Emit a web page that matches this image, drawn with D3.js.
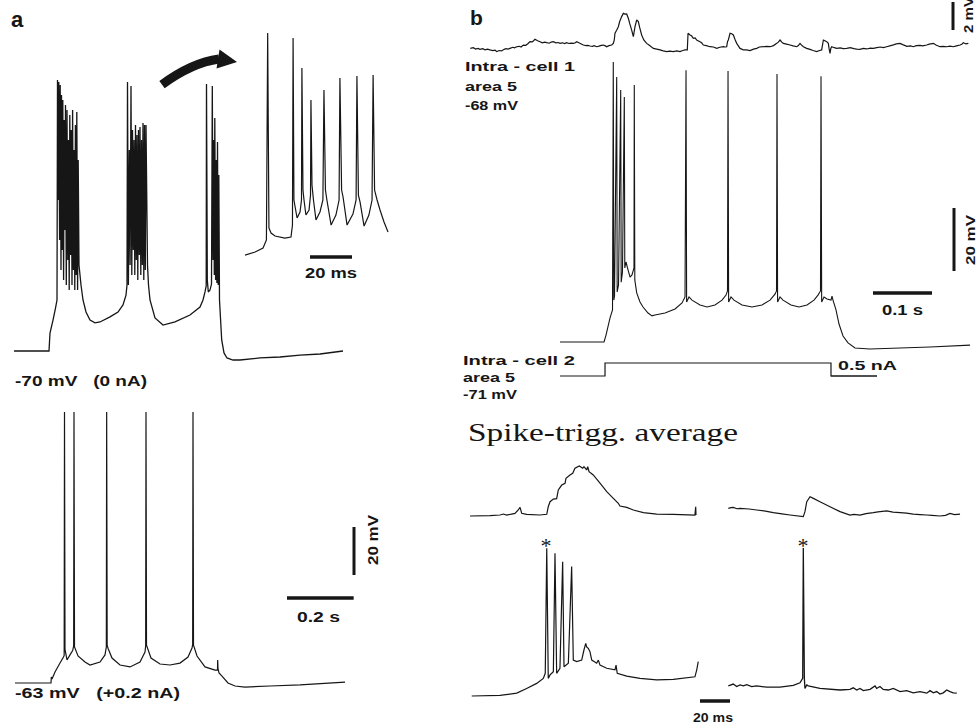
<!DOCTYPE html>
<html><head><meta charset="utf-8">
<script src="https://cdn.jsdelivr.net/npm/d3@7"></script>
<style>html,body{margin:0;padding:0;background:#fff}svg{display:block}text{white-space:pre}</style>
</head><body>
<svg id="fig" width="978" height="724"></svg>
<script>
// ---------- DATA (time in ms, membrane potential in mV, current in nA) ----------
// Panel a, top: spontaneous bursting at -70 mV (0 nA)
const A_TOP = [[0,-70],[105,-70],[108,-62.5],[117,-57.1],[124.5,-52.1],[129,-48.75],
 [130.5,42.9],[132.9,-7.1],[134.4,42.1],[136.8,-23.75],[138.6,40.8],[141,-36.25],[142.5,36.7],[144.9,-27.9],
 [146.4,34.6],[148.8,-40.4],[150.6,26.25],[153,-19.6],[154.5,32.5],[156.9,-42.5],[159,30.4],[161.4,-32.1],
 [163.2,17.9],[165.6,-44.6],[167.4,28.3],[169.8,-30],[171.6,22.1],[174,-42.5],[175.8,30.4],[178.2,-36.25],
 [180,13.75],[182.4,-44.6],[184.2,24.2],[186.6,-38.3],[188.4,29.6],[190.8,-44.6],[192.6,9.6],
 [195,-34.2],[201,-42.5],[207,-48.75],[216,-53.75],[228,-57.1],[243,-58.3],[258,-57.9],[288,-55.8],[312,-53.75],
 [327,-50.8],[336,-46.7],[339,-42.5],
 [340.5,42.1],[343.2,-42.5],[345.9,13.75],[348.3,-34.2],[351,40.4],[353.4,-38.3],[355.5,22.1],[357.9,-27.9],
 [360,17.9],[362.4,-38.3],[364.5,24.2],[366.9,-32.1],[369,20],[371.4,-40.4],[373.5,22.1],[375.9,-30],
 [378,23.3],[380.4,-38.3],[382.5,17.9],[384.9,-34.2],[387,25],[389.4,-40.4],[391.5,24.2],[393.9,-36.25],[396,24.2],
 [400.5,-34.2],[403.5,-42.5],[408,-48.75],[423,-56.25],[447,-59.2],[483,-57.9],[528,-55],[558,-51.7],[567,-48.75],[573,-45.4],
 [576.6,-42.9],[577.5,41.25],[579.9,-40.4],[582.9,-45.4],[588,-44.6],[592.5,-42.1],[594.9,40.4],[597,-32.1],
 [598.8,17.9],[600.9,-38.3],[602.4,27.1],[604.8,-40.4],[606.6,9.6],[608.7,-41.7],[610.5,17.1],[612.6,-42.5],
 [614.4,3.3],[616.5,-48.75],[623.1,-65.4],[630,-70.8],[639,-72.9],[657,-73.75],[678,-73.75],[738,-72.9],
 [798,-72.5],[858,-71.7],[918,-71.25],[987,-70]];

// Panel a, inset: third burst on expanded time base
const A_INSET = [[0,-51.7],[4.8,-50.4],[8.6,-48.75],[10.2,-45.4],[10.8,40.8],[11.4,-40.4],[12.4,-42.5],[14.3,-43.75],
 [19,-44.6],[21.9,-44.2],[22.6,-39.2],[22.9,38.75],[23.3,-28.75],[24.8,-36.25],[26.2,-33.75],[26.9,-28.75],
 [27.1,26.25],[27.6,-24.6],[28.1,-28.75],[29,-35],[30.5,-32.9],[31.2,-26.7],[31.4,12.9],[31.9,-22.5],[32.6,-28.75],
 [33.8,-37.1],[35.7,-33.75],[37.1,-28.75],[37.6,17.1],[38.3,-24.6],[39,-28.75],[41,-39.2],[43.3,-35],[44.8,-28.75],
 [45.2,22.1],[46,-24.6],[46.7,-27.5],[48.6,-39.2],[51.4,-34.6],[52.9,-28.75],[53.3,22.9],[54,-26.7],[54.8,-29.6],
 [56.7,-39.6],[59,-35],[60.5,-28.75],[61,23.3],[61.7,-24.6],[62.9,-28.75],[64.3,-32.9],[66.2,-37.9],[68.1,-42.1]];

// Panel a, bottom: tonic firing at -63 mV (+0.2 nA)
const A_BOTTOM = [[3,-63],[111,-63],[112,-60.5],[114,-61.3],[123,-58.4],[138,-54.7],[148.5,-52.2],
 [150.5,-51.5],[151.5,49.9],[153,-49],[159,-53.4],[168,-51.3],[176,-49.5],[179,-47.5],
 [180,49.9],[181.5,-48],[192,-51.75],[213,-54.25],[228,-55.5],[258,-54.25],[273,-51.3],[277,-48],
 [278,49.9],[279.5,-47.2],[282,-48.5],[294,-52.6],[318,-55.5],[348,-56.3],[378,-54.25],[393,-50.1],[395,-47.5],
 [396,49.9],[397.5,-47.2],[411,-52.6],[438,-55.1],[468,-55.5],[498,-54.7],[522,-52.2],[534,-48.4],[536,-47],
 [537,49.9],[538.5,-47.2],[549,-51.75],[573,-56.3],[603,-57.6],[610.5,-57.6],[611,-53.4],[612,-57],
 [615,-58.8],[624,-60.1],[642,-63],[663,-64.25],[693,-64.7],[768,-64.25],[858,-63.8],[993,-62.6]];

// Panel b: field potential (mV), intracellular cell 1 (mV), injected current (nA)
const B_LFP = [[-152,-0.1],[-147,-0.05],[-143,-0.15],[-139,-0.1],[-135.6,-0.17],[-131,-0.12],[-127,-0.2],[-123,-0.15],
 [-118.7,-0.21],[-114,-0.26],[-110,-0.22],[-107.4,-0.33],[-103,-0.25],[-99,-0.28],[-96,-0.2],[-92,-0.12],[-88,-0.15],
 [-84.8,-0.1],[-80,-0.02],[-77,-0.06],[-73.5,0.02],[-69,0.05],[-66,0],[-62.2,0.14],[-58,0.12],[-54,0.25],[-50.9,0.38],
 [-47,0.36],[-42.4,0.55],[-38,0.45],[-33.9,0.38],[-30,0.3],[-26,0.35],[-22.6,0.31],[-18,0.27],[-15,0.35],[-11.3,0.38],
 [-7,0.3],[-3,0.32],[0,0.26],[4,0.3],[8,0.24],[11.3,0.31],[15,0.25],[19,0.28],[22.6,0.26],[26,0.3],[28.3,0.38],
 [32,0.3],[36,0.22],[39.6,0.14],[44,0.1],[47,0.12],[50.9,0.07],[55,0.05],[58,0.1],[62.2,0.02],[66,0.06],[70,0.12],
 [73.5,0.14],[77,0.08],[79.1,0.02],[83,0.1],[87.6,0.14],[90.4,0.26],[92,0.5],[93.2,0.98],[96,1.2],[98.9,1.45],
 [101,1.8],[104.5,2.17],[107.4,2.4],[110,2.35],[113,2.36],[115.8,2.05],[118,1.7],[121.5,1.21],[124.3,0.74],[125,0.9],
 [127.1,1.45],[130,1.93],[132.8,1.81],[135,1.4],[138.4,0.86],[142,0.5],[146.9,0.26],[152,0.1],[158.2,-0.1],[164,-0.15],
 [169.5,-0.21],[175,-0.28],[180.8,-0.33],[186,-0.3],[192.1,-0.33],[198,-0.28],[203.4,-0.33],[208,-0.25],[211.9,-0.21],
 [215.8,-0.21],[216.5,0.5],[217,0.98],[220.4,0.86],[223,0.8],[226,0.62],[229,0.65],[231.7,0.5],[234,0.45],[237.3,0.38],
 [240,0.3],[243,0.14],[248,0.1],[254.3,0.02],[260,0],[265.6,-0.1],[271,-0.02],[276.9,0.02],[280,0],[282.5,0.02],
 [284,0.4],[285.3,0.5],[288.2,0.98],[291,0.95],[293.8,0.86],[297,0.5],[299.5,0.26],[302,0.1],[305.1,-0.1],[308,-0.15],
 [310.8,-0.21],[316,-0.2],[322.1,-0.26],[328,-0.15],[333.4,-0.1],[338,0],[344.7,0.02],[350,0.05],[356,0.02],[362,0.1],
 [367.3,0.26],[370,0.35],[373,0.5],[376,0.35],[378.6,0.26],[384,0.2],[389.9,0.14],[395,0.08],[401.2,0.02],[404,0.1],
 [406.8,0.26],[409,0.15],[412.5,0.02],[418,-0.1],[423.8,-0.17],[429,-0.25],[435.1,-0.33],[440,-0.25],[443.5,-0.21],
 [446.4,0.5],[449,0.45],[452,0.38],[454.8,0.26],[456,-0.1],[457.7,-0.45],[459,-0.1],[460.5,0.02],[465,-0.05],[469,-0.1],
 [475,-0.06],[480,-0.12],[485.9,-0.1],[492,-0.05],[498,-0.12],[503,-0.15],[508.5,-0.17],[514,-0.1],[520,-0.14],
 [526,-0.08],[531.1,-0.1],[537,-0.04],[543,0],[548,-0.05],[553.7,0.02],[559,0.08],[565,0.15],[570,0.22],[576.3,0.26],
 [582,0.15],[588,0.05],[594,0.08],[598.9,0.02],[604,0.1],[610,0.12],[615,0.08],[621.5,0.14],[626,0.2],[632.8,0.26],
 [638,0.12],[644.1,0.02],[650,0.05],[655.4,0.02],[661,0.06],[666.7,0.02],[672,0.08],[678,0.14],[681,0.2],[683.7,0.31],
 [688,0.22],[692.1,0.26]];

const B_CELL1 = [[0,-68],[74.6,-68],[78,-65.8],[84.7,-60.4],[89,-57.8],[90.3,20.9],[91.2,-54.7],[92.4,-53.4],
 [96.1,16.1],[96.9,-52.1],[99.2,-49.9],[102.9,12],[103.7,-49],[105.9,-45.8],[109,9.8],[109.8,-44.5],[111.9,-42.6],
 [115.3,-45.1],[118.7,-47.4],[122,-46.7],[125.4,-44.5],[125.9,13.6],[126.8,-48.3],[130,-52.4],[135.6,-55.3],
 [140.7,-56.9],[149.2,-58.8],[155.9,-59.7],[161,-59.4],[178,-58.8],[195,-57.5],[206.8,-55.6],[211.9,-53.7],
 [213.6,18.3],[214.6,-55.3],[218.7,-53.7],[223.7,-54.7],[237.3,-56.25],[249.2,-56.9],[262.7,-56.25],[274.6,-54.7],
 [281.4,-53.1],[283.9,-51.8],[284.8,18],[285.8,-55.3],[289.8,-53.7],[294.9,-54.7],[308.5,-56.25],[325.4,-56.9],
 [342.4,-56.25],[356,-54.7],[364.4,-52.8],[367,-51.8],[367.8,17.1],[368.8,-55.3],[372.9,-53.7],[378,-54.7],
 [391.5,-56.25],[405.1,-56.9],[418.7,-56.25],[430.5,-54.7],[437.3,-53.1],[441.5,-51.8],[442.4,16.4],[443.5,-55.3],
 [447.5,-53.7],[452.6,-54.35],[459.4,-54.7],[461,-53.4],[462.7,-54.7],[467.8,-57.8],[472.9,-62.3],[479.7,-66.1],
 [488.2,-68.3],[500,-69.9],[525.4,-70.2],[576.3,-69.9],[627.1,-69.6],[695,-69]];

const B_CURRENT = [[0,0],[76.3,0],[76.3,0.5],[459.3,0.5],[459.3,0],[537.3,0]];

// Spike-triggered averages (time relative to the triggering spike)
const STA_L_FIELD = [[-50.7,0],[-37.3,0.02],[-30.7,0.07],[-28.5,0.14],[-26.2,0.07],[-22.9,0.14],[-20.7,0.19],
 [-18.5,0.43],[-17.3,0.62],[-16.2,0.19],[-12.9,0.12],[-4,0.07],[0.5,0.12],[1.5,0.66],[2.7,1.02],[4.9,1.21],[7.1,1.24],
 [8.2,1.86],[10.5,2.21],[12.7,2.34],[13.3,2.69],[16,2.93],[17.8,3.05],[19.3,3.41],[22.2,3.57],[24.5,3.41],[25.3,3.52],
 [27.1,3.29],[27.8,3.52],[28.7,3.16],[31.5,2.93],[36,2.34],[40.5,1.74],[44.9,1.26],[48.2,0.91],[49.3,0.71],[53.8,0.62],
 [58.2,0.43],[64.9,0.24],[73.8,0.14],[84.9,0.12],[99.3,0.07],[99.8,0.66],[100,0.07]];
const STA_R_FIELD = [[-49.8,0.55],[-48,0.6],[-46.5,0.62],[-44,0.52],[-42,0.55],[-36,0.5],[-30.9,0.43],[-25,0.35],
 [-19.8,0.24],[-14,0.15],[-8.7,0.07],[0.2,-0.05],[1.3,0.31],[2.5,1.02],[4.7,1.38],[6.9,1.26],[11.3,1.02],[18,0.66],
 [24.7,0.31],[31.3,0.07],[34,0.12],[38,0.07],[42,0.17],[46.9,0.24],[50,0.3],[55.8,0.36],[60,0.28],[64.7,0.24],[69,0.2],
 [73.5,0.14],[78,0.1],[82.5,0.07],[86,0.04],[91.3,0],[95,0.05],[98,0.19],[101,0.1],[104.7,0.14]];
const STA_L_CELL = [[-49.5,-70],[-30.7,-69.8],[-19.5,-69.1],[-12.9,-67.6],[-6.2,-66],[-1.8,-64.4],[-0.5,-62.8],
 [0.5,-23.1],[1.5,-64.4],[2.7,-63.3],[4.9,-62.3],[6,-24.7],[7.1,-62.8],[9.3,-61.2],[11.1,-27.4],[12,-60.7],[14.9,-59.6],
 [17.1,-28.9],[18.2,-58.6],[20.5,-59.1],[23.8,-58.6],[25.3,-55.4],[26.5,-53.3],[27.1,-54.4],[28.2,-54.9],[29.3,-55.9],
 [30.5,-58.6],[33.8,-59.6],[34.9,-58.6],[36,-60.2],[40.5,-61.2],[46,-61.7],[46.7,-60.2],[47.5,-62.8],[53.8,-63.7],
 [62.7,-64.4],[73.8,-64.9],[84.9,-64.7],[99.3,-63.9],[100.5,-61.7],[101.5,-59.1]];
const STA_R_CELL = [[-49.8,-66.8],[-46.5,-66.2],[-44.2,-67],[-42,-66.5],[-39.8,-66.8],[-37.5,-66.4],[-34.2,-67],
 [-30.9,-66.8],[-24.2,-67.2],[-15.3,-67.2],[-6.5,-66.6],[-2,-65.8],[-0.2,-64.4],[0.2,-23],[0.9,-64.4],[1.3,-67.6],
 [2.5,-66.5],[3.5,-66.8],[11.3,-67.6],[24.7,-68.1],[31.3,-67.9],[33.5,-67.4],[35.8,-68.1],[38,-67.6],[40.2,-68.3],
 [44.7,-67.9],[48,-66.8],[49.1,-67.6],[51.3,-67],[53.5,-67.9],[56.9,-68.1],[60.2,-67.6],[64.7,-68.6],[69.1,-68.3],
 [73.5,-69],[78,-68.6],[82.5,-69.1],[84.7,-68.3],[86.9,-69],[89.1,-68.6],[91.3,-69.4],[93.5,-69],[95.8,-68.1],
 [98,-68.6],[100.2,-69],[102.5,-69.1]];

// Scale-bar values
const SCALE_A = {ms: 200, mV: 20};
const SCALE_INSET = {ms: 20};
const SCALE_B = {ms: 100, mV: 20, fieldMV: 2};
const SCALE_STA = {ms: 20};

// Text labels
const LABEL_A_TOP = "-70 mV   (0 nA)";
const LABEL_A_BOTTOM = "-63 mV   (+0.2 nA)";
const LABEL_CELL1 = ["Intra - cell 1", "area 5", "-68 mV"];
const LABEL_CELL2 = ["Intra - cell 2", "area 5", "-71 mV"];
const LABEL_STA = "Spike-trigg. average";

// ---------- SCALES ----------
const xA = d3.scaleLinear().domain([0, 1000]).range([14, 14 + 1000/3]);
const yATop = d3.scaleLinear().domain([-70, 30]).range([351, 111]);
const yABot = d3.scaleLinear().domain([-63, 37]).range([683, 443]);
const xIn = d3.scaleLinear().domain([0, 20]).range([245, 287]);
const yIn = d3.scaleLinear().domain([-70, 30]).range([299, 59]);
const xB = d3.scaleLinear().domain([0, 100]).range([560, 619]);
const yB1 = d3.scaleLinear().domain([-68, 32]).range([342, 27]);
const yLfp = d3.scaleLinear().domain([0, 2]).range([47, 19]);
const yCur = d3.scaleLinear().domain([0, 0.5]).range([376, 363]);
const xSL = d3.scaleLinear().domain([0, 20]).range([546, 576]);
const xSR = d3.scaleLinear().domain([0, 20]).range([803, 833]);
const ySU = d3.scaleLinear().domain([0, 1]).range([516, 502]);
const ySC = d3.scaleLinear().domain([-70, -20]).range([696, 538.5]);

const svg = d3.select('#fig');
const INK = '#161616';

function trace(data, xs, ys, w) {
  svg.append('path').datum(data)
    .attr('d', d3.line().x(d => xs(d[0])).y(d => ys(d[1])))
    .attr('fill', 'none').attr('stroke', INK)
    .attr('stroke-width', w || 1.2).attr('stroke-linejoin', 'miter').attr('stroke-miterlimit', 2);
}
function bar(x1, y1, x2, y2, w) {
  svg.append('line').attr('x1', x1).attr('y1', y1).attr('x2', x2).attr('y2', y2)
    .attr('stroke', INK).attr('stroke-width', w || 3);
}
function label(txt, x, y, o) {
  o = o || {};
  const t = svg.append('text').text(txt)
    .attr('xml:space', 'preserve')
    .attr('font-family', o.family || 'Liberation Sans, Arial, sans-serif')
    .attr('font-weight', o.weight || 'bold')
    .attr('font-size', o.size || 13)
    .attr('fill', INK)
    .attr('text-anchor', o.anchor || 'start');
  if (o.rot) t.attr('transform', `translate(${x},${y}) rotate(-90)`);
  else t.attr('x', x).attr('y', y);
  if (o.len) t.attr('textLength', o.len).attr('lengthAdjust', 'spacingAndGlyphs');
  return t;
}

// ---------- PANEL a ----------
label('a', 11, 27, {size: 22});
trace(A_TOP, xA, yATop, 1.3);
trace(A_INSET, xIn, yIn, 1.2);
trace(A_BOTTOM, xA, yABot, 1.2);

// arrow from the third burst towards the expanded inset
(function () {
  const tail = [xA(444), yATop(41)], tip = [xIn(-3.8), yIn(28.75)];
  const ctrl = [tail[0] + 30, tail[1] - 22];
  const base = [tip[0] - 19, tip[1] - 3];
  svg.append('path')
    .attr('d', `M${tail[0]},${tail[1]} Q${ctrl[0]},${ctrl[1]} ${base[0] + 1},${base[1]}`)
    .attr('fill', 'none').attr('stroke', INK).attr('stroke-width', 9);
  const dx = tip[0] - base[0], dy = tip[1] - base[1], L = Math.hypot(dx, dy);
  const nx = -dy / L, ny = dx / L, hw = 9.5;
  svg.append('path')
    .attr('d', `M${base[0] + nx*hw},${base[1] + ny*hw} L${tip[0]},${tip[1]} L${base[0] - nx*hw},${base[1] - ny*hw} Z`)
    .attr('fill', INK);
})();

// inset time bar
bar(310, 257, 310 + (xIn(SCALE_INSET.ms) - xIn(0)), 257, 3.5);
label('20 ms', 305, 278, {size: 14, len: 52});

label(LABEL_A_TOP, 15, 386, {size: 14, len: 132});
label(LABEL_A_BOTTOM, 15, 698, {size: 14, len: 165});

// panel a scale bars
bar(354, 575, 354, 575 - (yATop(-70) - yATop(-70 + SCALE_A.mV)), 3);
bar(287, 598, 287 + (xA(SCALE_A.ms) - xA(0)), 598, 3.5);
label('20 mV', 378, 565, {size: 14, rot: true, len: 50});
label('0.2 s', 297, 622, {size: 14, len: 43});

// ---------- PANEL b ----------
label('b', 470, 25, {size: 21});
trace(B_LFP, xB, yLfp, 1.2);
trace(B_CELL1, xB, yB1, 1.1);
trace(B_CURRENT, xB, yCur, 1.2);

LABEL_CELL1.forEach((s, i) => label(s, 465, [71, 91, 110][i], {size: 13, len: [110, 52, 53][i]}));
LABEL_CELL2.forEach((s, i) => label(s, 463, [365, 382, 399][i], {size: 13, len: [112, 52, 54][i]}));

// field potential scale (2 mV)
bar(953, 30, 953, 30 - (yLfp(0) - yLfp(SCALE_B.fieldMV)), 3);
label('2 mV', 973, 33, {size: 13, rot: true, len: 36});
// intracellular scale (20 mV, 0.1 s)
bar(954, 271, 954, 271 - (yB1(-68) - yB1(-68 + SCALE_B.mV)), 3);
label('20 mV', 975, 265, {size: 13, rot: true, len: 50});
bar(873, 293, 873 + (xB(SCALE_B.ms) - xB(0)), 293, 3.5);
label('0.1 s', 882, 315, {size: 14, len: 41});
// current step amplitude
bar(xB(459.3), yCur(0), 877, yCur(0), 1.2);
label('0.5 nA', 838, 370, {size: 13, len: 59});

// ---------- Spike-triggered averages ----------
label(LABEL_STA, 468, 441, {family: 'Liberation Serif, Times New Roman, serif', weight: 'normal', size: 25, len: 270});
trace(STA_L_FIELD, xSL, ySU, 1.2);
trace(STA_R_FIELD, xSR, ySU, 1.2);
trace(STA_L_CELL, xSL, ySC, 1.2);
trace(STA_R_CELL, xSR, ySC, 1.3);
label('*', xSL(0), 553, {family: 'Liberation Serif, serif', weight: 'normal', size: 22, anchor: 'middle'});
label('*', xSR(0), 553, {family: 'Liberation Serif, serif', weight: 'normal', size: 22, anchor: 'middle'});
bar(700, 701, 700 + (xSL(SCALE_STA.ms) - xSL(0)), 701, 3.5);
label('20 ms', 693, 722, {size: 13, len: 40});
</script>
</body></html>
